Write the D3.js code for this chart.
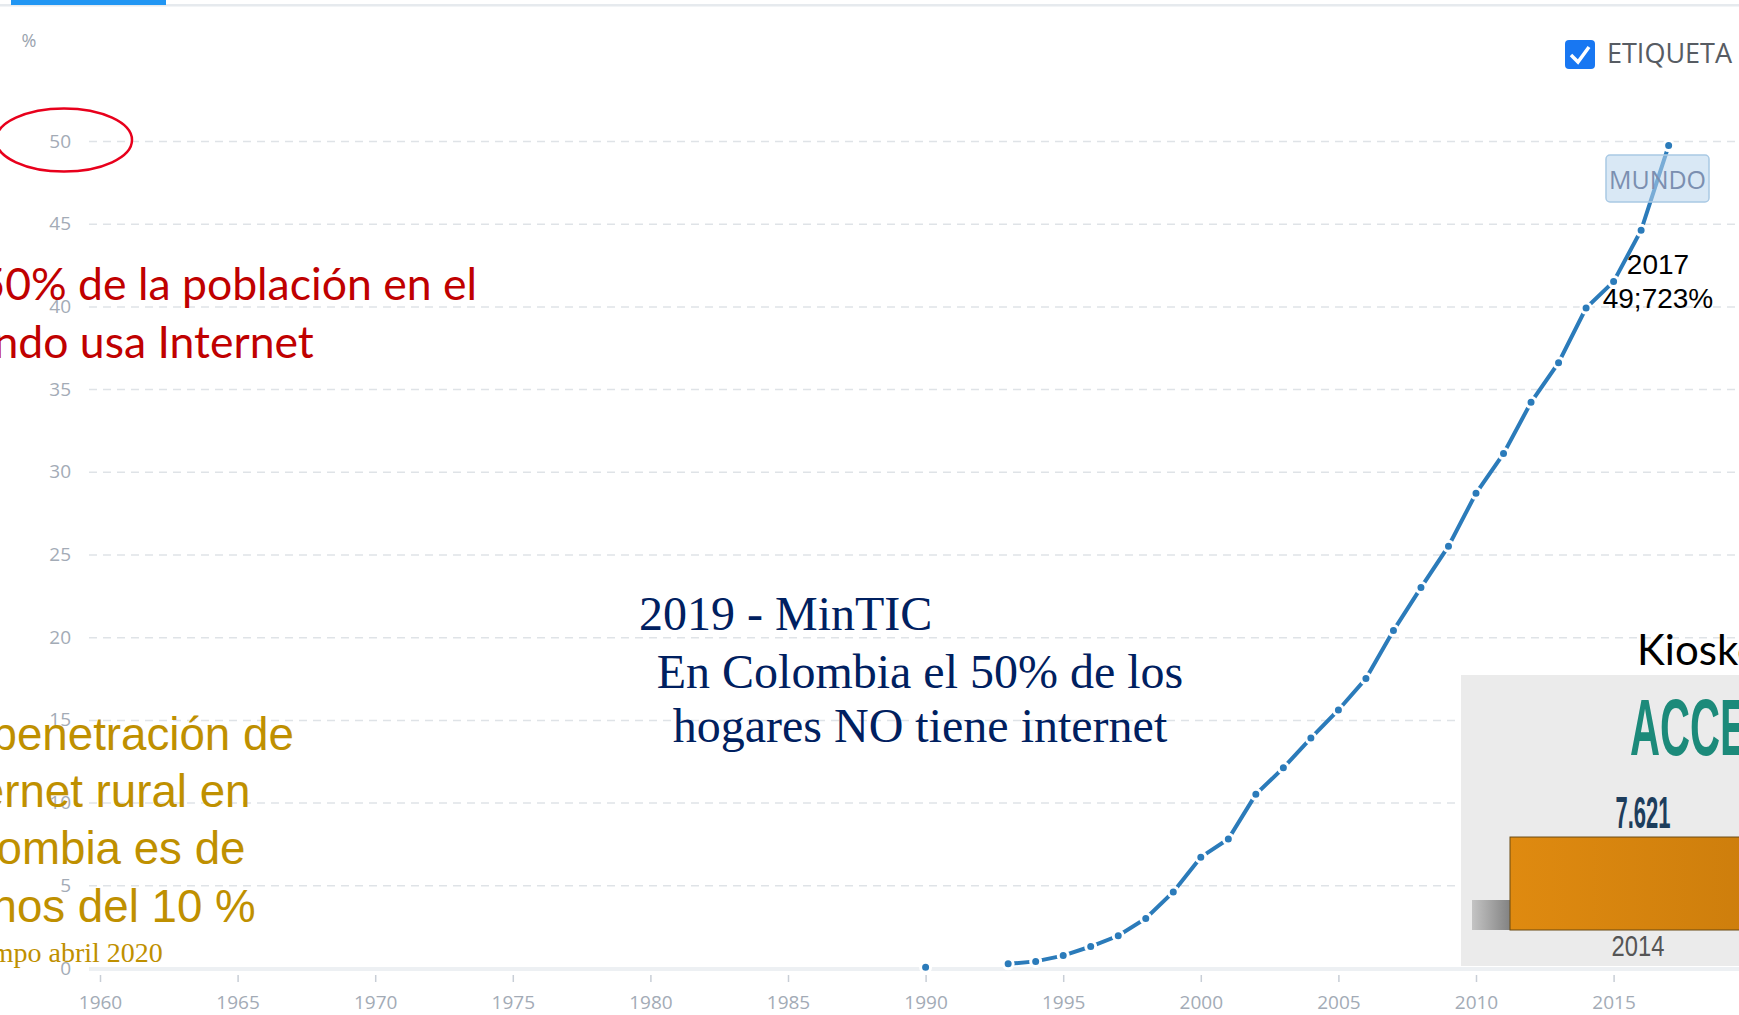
<!DOCTYPE html>
<html lang="es">
<head>
<meta charset="UTF-8">
<title>Usuarios de Internet - Mundo</title>
<script src="https://cdn.jsdelivr.net/npm/d3@7"></script>
<style>
    body {
        margin: 0;
        background: #fff;
    }

    svg {
        display: block;
    }

    .axis text {
        font-family: "Open Sans", sans-serif;
        font-size: 19px;
        fill: #a3abb6;
    }

    .grid line {
        stroke: #dfe3e7;
        stroke-width: 1.5;
        stroke-dasharray: 8 6;
    }
</style>
</head>
<body>
<div id="graphArea"></div>
<script>
// datos: personas que usan Internet (% de la poblacion), Mundo
const years = [1990, 1991, 1992, 1993, 1994, 1995, 1996, 1997, 1998, 1999, 2000, 2001, 2002, 2003,
    2004, 2005, 2006, 2007, 2008, 2009, 2010, 2011, 2012, 2013, 2014, 2015, 2016, 2017]
const worldUsers = [0.05, null, null, 0.25, 0.4, 0.75, 1.3, 1.95, 3.0, 4.6, 6.7, 7.8, 10.5, 12.1,
    13.9, 15.6, 17.5, 20.4, 23.0, 25.5, 28.7, 31.1, 34.2, 36.6, 39.9, 41.5, 44.6, 49.723]
const yTicks = [0, 5, 10, 15, 20, 25, 30, 35, 40, 45, 50]
const xTicks = [1960, 1965, 1970, 1975, 1980, 1985, 1990, 1995, 2000, 2005, 2010, 2015]
const seriesName = 'MUNDO'

// recuadro de kioskos
const kioskYears = ['2014']
const kioskCounts = [7621]

const W = 1739, H = 1015

const svg = d3.select('#graphArea').append('svg')
    .attr('width', W)
    .attr('height', H)

svg.append('rect').attr('width', W).attr('height', H).attr('fill', '#fff')

// barra superior (pestaña)
svg.append('rect').attr('x', 0).attr('y', 4).attr('width', W).attr('height', 2.5).attr('fill', '#e6eaee')
svg.append('rect').attr('x', 11).attr('y', 0).attr('width', 155).attr('height', 5).attr('fill', '#2196f3')

const x = d3.scaleLinear().domain([1960, 2015]).range([100, 1613.6])
const y = d3.scaleLinear().domain([0, 50]).range([968, 141])

// eje y + rejilla
const yAxis = svg.append('g')
    .attr('class', 'axis grid')
    .attr('transform', 'translate(89,0)')
    .call(d3.axisLeft(y).tickValues(yTicks).tickSize(-(W - 89)).tickPadding(18))
yAxis.select('.domain').remove()
yAxis.selectAll('.tick').filter(d => d === 0).select('line').remove()

svg.append('text')
    .attr('x', 29).attr('y', 41).attr('dy', '0.35em')
    .attr('text-anchor', 'middle')
    .attr('font-family', 'Open Sans, sans-serif')
    .attr('font-size', 18)
    .attr('fill', '#9aa3ae')
    .text('%')

// eje x
svg.append('line')
    .attr('x1', 89).attr('x2', W)
    .attr('y1', 969).attr('y2', 969)
    .attr('stroke', '#edf0f3')
    .attr('stroke-width', 4)

const xAxis = svg.append('g')
    .attr('class', 'axis')
    .attr('transform', 'translate(0,975)')
    .call(d3.axisBottom(x).tickValues(xTicks).tickFormat(d3.format('d')).tickSize(7).tickPadding(14))
xAxis.select('.domain').remove()
xAxis.selectAll('.tick line').attr('stroke', '#c8ced6').attr('stroke-width', 1.5)

// serie
const points = years.map((yr, i) => ({year: yr, value: worldUsers[i]}))
const line = d3.line()
    .defined(d => d.value !== null)
    .x(d => x(d.year))
    .y(d => y(d.value))

svg.append('path')
    .datum(points)
    .attr('fill', 'none')
    .attr('stroke', '#2b7bba')
    .attr('stroke-width', 4)
    .attr('d', line)

svg.append('g').selectAll('circle')
    .data(points.filter(d => d.value !== null))
    .enter()
    .append('circle')
    .attr('cx', d => x(d.year))
    .attr('cy', d => y(d.value))
    .attr('r', 5)
    .attr('fill', '#2b7bba')
    .attr('stroke', '#fff')
    .attr('stroke-width', 3)

// etiqueta de la serie
const last = points[points.length - 1]
const tag = svg.append('g')
tag.append('rect')
    .attr('x', 1606).attr('y', 155)
    .attr('width', 103).attr('height', 47)
    .attr('rx', 4)
    .attr('fill', 'rgba(186,214,236,0.55)')
    .attr('stroke', '#a9c9e4')
    .attr('stroke-width', 1.5)
tag.append('text')
    .attr('x', 1657.5).attr('y', 189)
    .attr('text-anchor', 'middle')
    .attr('font-family', 'Open Sans, sans-serif')
    .attr('font-size', 25)
    .attr('fill', '#7b8fb0')
    .text(seriesName)

// casilla ETIQUETA
svg.append('rect')
    .attr('x', 1565).attr('y', 40)
    .attr('width', 30).attr('height', 29)
    .attr('rx', 4)
    .attr('fill', '#1877f2')
svg.append('polyline')
    .attr('points', '1571,55 1578,62 1589,47')
    .attr('fill', 'none')
    .attr('stroke', '#fff')
    .attr('stroke-width', 3.5)
svg.append('text')
    .attr('x', 1607).attr('y', 63)
    .attr('font-family', 'Open Sans, sans-serif')
    .attr('font-size', 27)
    .attr('fill', '#575c63')
    .text('ETIQUETA')

// valor 2017
svg.append('text')
    .attr('x', 1658).attr('y', 274)
    .attr('text-anchor', 'middle')
    .attr('font-family', 'Liberation Sans, Arial, sans-serif')
    .attr('font-size', 28)
    .attr('fill', '#000')
    .text(last.year)
svg.append('text')
    .attr('x', 1658).attr('y', 308)
    .attr('text-anchor', 'middle')
    .attr('font-family', 'Liberation Sans, Arial, sans-serif')
    .attr('font-size', 28)
    .attr('fill', '#000')
    .text(String(last.value).replace('.', ';') + '%')

// circulo rojo sobre el 50
svg.append('ellipse')
    .attr('cx', 64).attr('cy', 140)
    .attr('rx', 68).attr('ry', 31.5)
    .attr('fill', 'none')
    .attr('stroke', '#e8001c')
    .attr('stroke-width', 2.5)

// ajusta el tamaño de letra para que la linea mida w
function fitWidth(sel, w) {
    let fs = parseFloat(sel.attr('font-size'))
    let len = sel.node().getComputedTextLength()
    return fs * w / len
}

// texto rojo
const red = svg.append('g')
    .attr('font-family', 'Lato, sans-serif')
    .attr('fill', '#c00000')
const red1 = red.append('text').attr('x', -68).attr('y', 300).attr('font-size', 46).text('El 50% de la población en el')
const redSize = fitWidth(red1, 545)
red1.attr('font-size', redSize)
red.append('text').attr('x', -68).attr('y', 358).attr('font-size', redSize).text('mundo usa Internet')

// texto dorado
const gold = svg.append('g')
    .attr('font-family', 'Liberation Sans, Arial, sans-serif')
    .attr('fill', '#bf9000')
const goldLines = ['La penetración de', 'Internet rural en', 'Colombia es de', 'menos del 10 %']
const goldY = [750, 807, 864, 922]
goldLines.forEach((t, i) => {
    gold.append('text').attr('x', -72).attr('y', goldY[i]).attr('font-size', 45.7).text(t)
})
gold.append('text')
    .attr('x', -76).attr('y', 962)
    .attr('font-family', 'Liberation Serif, serif')
    .attr('font-size', 28)
    .text('El Tiempo abril 2020')

// texto azul
const navy = svg.append('g')
    .attr('font-family', 'Liberation Serif, serif')
    .attr('font-size', 48)
    .attr('fill', '#002060')
navy.append('text').attr('x', 639).attr('y', 630).text('2019 - MinTIC')
navy.append('text').attr('x', 920).attr('y', 688).attr('text-anchor', 'middle').text('En Colombia el 50%  de los')
navy.append('text').attr('x', 920).attr('y', 742).attr('text-anchor', 'middle').text('hogares NO tiene internet')

// recuadro kioskos
const defs = svg.append('defs')
const og = defs.append('linearGradient').attr('id', 'orangeGrad').attr('x1', 0).attr('x2', 1).attr('y1', 0).attr('y2', 0)
og.append('stop').attr('offset', '0%').attr('stop-color', '#df8a10')
og.append('stop').attr('offset', '100%').attr('stop-color', '#cc7d0c')
const gg = defs.append('linearGradient').attr('id', 'grayGrad').attr('x1', 0).attr('x2', 1).attr('y1', 0).attr('y2', 0)
gg.append('stop').attr('offset', '0%').attr('stop-color', '#c4c4c4')
gg.append('stop').attr('offset', '100%').attr('stop-color', '#7f7f7f')

const kiosk = svg.append('g')
kiosk.append('rect')
    .attr('x', 1461).attr('y', 675)
    .attr('width', W - 1461).attr('height', 291)
    .attr('fill', '#ebebeb')

kiosk.append('text')
    .attr('x', 1637).attr('y', 665)
    .attr('font-family', 'Lato, sans-serif')
    .attr('font-size', 42)
    .attr('fill', '#000')
    .text('Kioskos Vive Digital')

kiosk.append('text')
    .attr('transform', 'translate(1630,755) scale(0.52,1)')
    .attr('font-family', 'Liberation Sans, Arial, sans-serif')
    .attr('font-weight', 'bold')
    .attr('font-size', 80)
    .attr('fill', '#1c8a7a')
    .text('ACCESO')

const kx = d3.scaleBand().domain(kioskYears).range([1510, 1770]).padding(0)
const ky = d3.scaleLinear().domain([0, 10000]).range([930, 808])

kiosk.append('rect')
    .attr('x', 1472).attr('y', 900)
    .attr('width', 40).attr('height', 30)
    .attr('fill', 'url(#grayGrad)')

kiosk.selectAll('.kbar')
    .data(kioskCounts)
    .enter()
    .append('rect')
    .attr('class', 'kbar')
    .attr('x', (d, i) => kx(kioskYears[i]))
    .attr('y', d => ky(d))
    .attr('width', kx.bandwidth())
    .attr('height', d => ky(0) - ky(d))
    .attr('fill', 'url(#orangeGrad)')
    .attr('stroke', '#6b4a12')
    .attr('stroke-width', 1)

kiosk.selectAll('.kval')
    .data(kioskCounts)
    .enter()
    .append('text')
    .attr('transform', (d, i) => 'translate(' + (kx(kioskYears[i]) + 133) + ',' + (ky(d) - 9) + ') scale(0.5,1)')
    .attr('text-anchor', 'middle')
    .attr('font-family', 'Liberation Sans, Arial, sans-serif')
    .attr('font-weight', 'bold')
    .attr('font-size', 44)
    .attr('fill', '#1d3d5c')
    .text(d => d3.format(',')(d).replace(',', '.'))

kiosk.selectAll('.kyear')
    .data(kioskYears)
    .enter()
    .append('text')
    .attr('transform', d => 'translate(' + (kx(d) + 128) + ',956) scale(0.82,1)')
    .attr('text-anchor', 'middle')
    .attr('font-family', 'Liberation Sans, Arial, sans-serif')
    .attr('font-size', 29)
    .attr('fill', '#555')
    .text(d => d)
</script>
</body>
</html>
